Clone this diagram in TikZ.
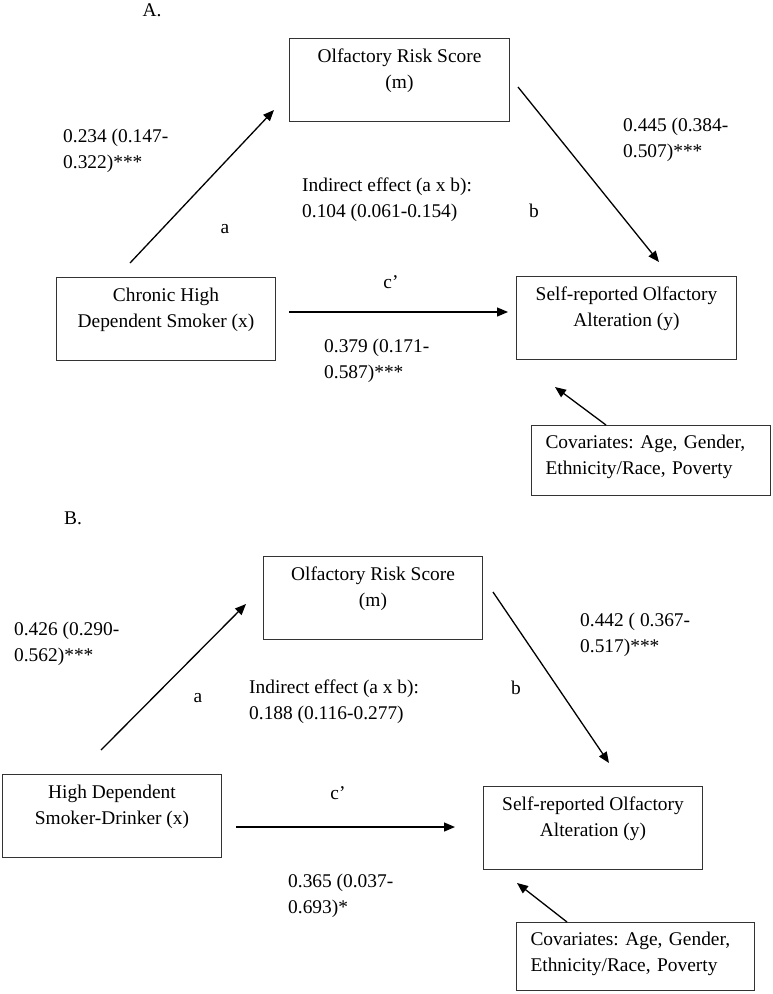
\documentclass[tikz,border=0pt]{standalone}
\usepackage{fontspec}
\setmainfont{Liberation Serif}
\usetikzlibrary{arrows.meta}
\usetikzlibrary{positioning}
\newcommand{\figfont}{\fontsize{19.4}{26}\selectfont\frenchspacing}

\begin{document}
\begin{tikzpicture}[x=1pt,y=-1pt,>={Triangle[length=11pt,width=9pt]},
    var box/.style={draw=black!80,line width=1pt,anchor=north west,align=center,inner xsep=0pt,inner ysep=0pt,
      text height=49.5pt,text depth=33.5pt,font=\figfont},
    cov box/.style={var box,align=left,inner xsep=14pt,text width=211pt,text height=22.5pt,text depth=47.5pt},
    lbl/.style={inner sep=0pt,align=left,anchor=west,font=\figfont},
    small lbl/.style={inner sep=0pt,font=\figfont},
    arr/.style={->,line width=1.3pt}]
   \useasboundingbox (0,0) rectangle (772,994);
   \begin{scope}% panel A
     \node[small lbl] (titleA) at (152,10) {A.};
     \node[var box,minimum width=220pt] (mA) at (289,38) {Olfactory Risk Score\\(m)};
     \node[var box,minimum width=219pt] (xA) at (56,277) {Chronic High\\Dependent Smoker (x)};
     \node[var box,minimum width=220pt] (yA) at (516,276) {Self-reported Olfactory\\Alteration (y)};
     \node[cov box] (cA) at (531,425) {Covariates: Age, Gender,\\Ethnicity/Race, Poverty};
     \node[lbl] (effaA) at (63,150.5) {0.234 (0.147-\\0.322)***};
     \node[lbl] (effbA) at (623,140) {0.445 (0.384-\\0.507)***};
     \node[lbl] (indA) at (302,199.5) {Indirect effect (a x b):\\0.104 (0.061-0.154)};
     \node[lbl] (effcA) at (324,361) {0.379 (0.171-\\0.587)***};
     \node[small lbl] (aA) at (225,229) {a};
     \node[small lbl] (bA) at (534,211) {b};
     \node[small lbl] (cpA) at (391,282) {c’};
     \coordinate (a1A) at (130,263);
     \coordinate (a2A) at (274,110);
     \coordinate (b1A) at (518,87);
     \coordinate (b2A) at (659,262);
     \coordinate (c1A) at (289,312);
     \coordinate (c2A) at (508,312);
     \coordinate (d1A) at (606,425);
     \coordinate (d2A) at (555,387);
      \path[arr] (a1A) edge (a2A);
      \path[arr] (b1A) edge (b2A);
      \path[arr] (c1A) edge (c2A);
      \path[arr] (d1A) edge (d2A);
   \end{scope}
   \begin{scope}% panel B
     \node[small lbl] (titleB) at (73,518) {B.};
     \node[var box,minimum width=219pt] (mB) at (263,556) {Olfactory Risk Score\\(m)};
     \node[var box,minimum width=219pt] (xB) at (2,774) {High Dependent\\Smoker-Drinker (x)};
     \node[var box,minimum width=219pt] (yB) at (483,786) {Self-reported Olfactory\\Alteration (y)};
     \node[cov box,text width=210pt,text depth=45.5pt] (cB) at (516,922) {Covariates: Age, Gender,\\Ethnicity/Race, Poverty};
     \node[lbl] (effaB) at (14,644) {0.426 (0.290-\\0.562)***};
     \node[lbl] (effbB) at (580,634.5) {0.442 ( 0.367-\\0.517)***};
     \node[lbl] (indB) at (249,701.5) {Indirect effect (a x b):\\0.188 (0.116-0.277)};
     \node[lbl] (effcB) at (288,895.5) {0.365 (0.037-\\0.693)*};
     \node[small lbl] (aB) at (198,698) {a};
     \node[small lbl] (bB) at (516,688) {b};
     \node[small lbl] (cpB) at (338,793) {c’};
     \coordinate (a1B) at (101,750);
     \coordinate (a2B) at (246,604);
     \coordinate (b1B) at (493,592);
     \coordinate (b2B) at (609,763);
     \coordinate (c1B) at (236,827);
     \coordinate (c2B) at (455,827);
     \coordinate (d1B) at (567,922);
     \coordinate (d2B) at (517,883);
      \path[arr] (a1B) edge (a2B);
      \path[arr] (b1B) edge (b2B);
      \path[arr] (c1B) edge (c2B);
      \path[arr] (d1B) edge (d2B);
   \end{scope}
\end{tikzpicture}
\end{document}
